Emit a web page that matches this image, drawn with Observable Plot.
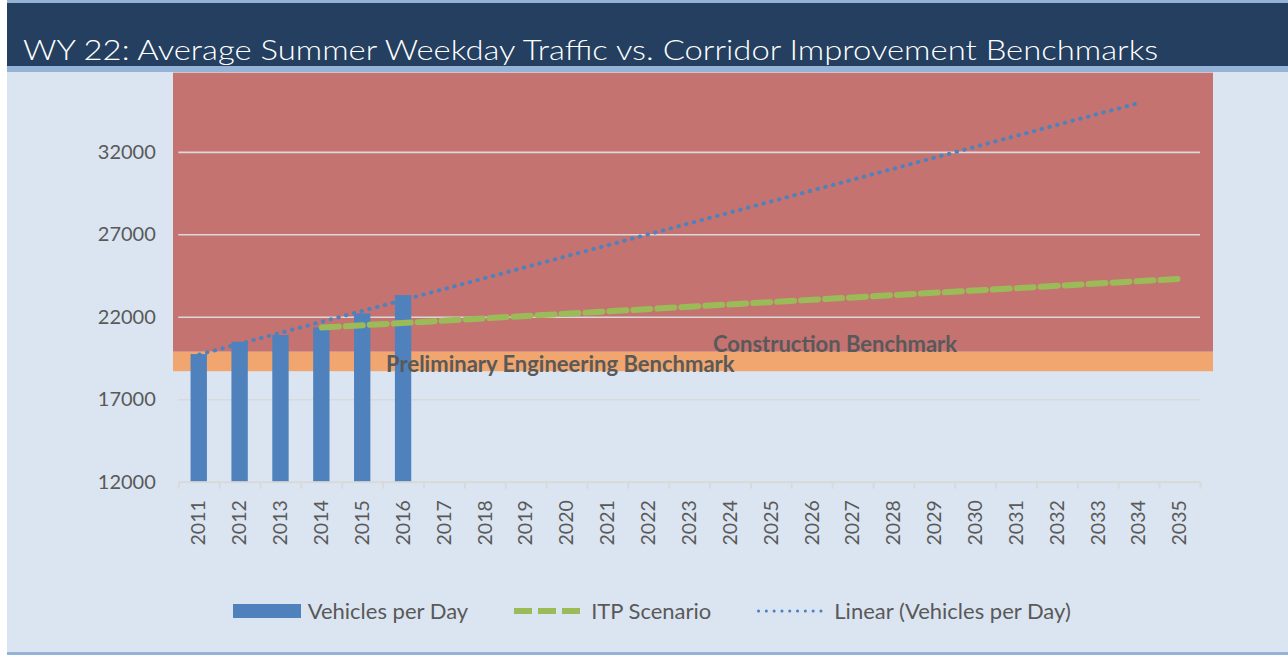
<!DOCTYPE html>
<html>
<head>
<meta charset="utf-8">
<script src="https://cdn.jsdelivr.net/npm/d3@7"></script>
<script src="https://cdn.jsdelivr.net/npm/@observablehq/plot@0.6"></script>
<style>
  html, body { margin: 0; padding: 0; background: #ffffff; }
  #wrap { position: absolute; left: 7px; top: 0; width: 1281px; height: 655px; background: #DBE5F1; overflow: hidden; font-family: Lato, "Open Sans", sans-serif; }
  #topstripe { position: absolute; left: 0; top: 0; width: 100%; height: 3px; background: #95B3D7; }
  #header { position: absolute; left: 0; top: 3px; width: 100%; height: 63px; background: #243F60; }
  #stripe2 { position: absolute; left: 0; top: 66px; width: 100%; height: 6px; background: #95B3D7; }
  #bottomstripe { position: absolute; left: 0; top: 652px; width: 100%; height: 3px; background: #95B3D7; }
  #title { position: absolute; left: 15.7px; top: 31.7px; font-size: 28px; line-height: normal; font-weight: 300; color: #ffffff; white-space: nowrap; transform-origin: 0 0; }
  #chart { position: absolute; left: 0; top: 72px; }
  #legend { position: absolute; left: 225.7px; top: 597px; height: 27px; display: flex; align-items: center; font-size: 22px; color: #595959; white-space: nowrap; }
  #legend .item { display: flex; align-items: center; margin-right: 46px; }
  #legend svg { display: block; margin-right: 7px; }
</style>
</head>
<body>
<div id="wrap">
  <div id="topstripe"></div>
  <div id="header"></div>
  <div id="stripe2"></div>
  <div id="title">WY 22: Average Summer Weekday Traffic vs. Corridor Improvement Benchmarks</div>
  <div id="chart"></div>
  <div id="legend"></div>
  <div id="bottomstripe"></div>
</div>
<script>
// ---- data ----
const years = [2011, 2012, 2013, 2014, 2015, 2016, 2017, 2018, 2019, 2020, 2021, 2022, 2023,
               2024, 2025, 2026, 2027, 2028, 2029, 2030, 2031, 2032, 2033, 2034, 2035];
const barYears = [2011, 2012, 2013, 2014, 2015, 2016];
const vehiclesPerDay = [19740, 20485, 20890, 21360, 22205, 23315];
const itpYears = [2014, 2035];
const itpValues = [21375, 24330];
const trendYears = [2011, 2034];
const trendValues = [19740, 35000];
const benchmarkNames = ["Construction Benchmark", "Preliminary Engineering Benchmark"];
const benchmarkLow = [19880, 18700];
const benchmarkHigh = [36800, 19880];
const benchmarkLabelYears = [2024, 2016];
const benchmarkColors = ["#C47371", "#F0A66E"];
const yTicks = [12000, 17000, 22000, 27000, 32000];
const yDomain = [12000, 36800];
const legendLabels = ["Vehicles per Day", "ITP Scenario", "Linear (Vehicles per Day)"];

// ---- tables ----
const barData = barYears.map((year, i) => ({year, value: vehiclesPerDay[i]}));
const itpData = itpYears.map((year, i) => ({year, value: itpValues[i]}));
const trendData = trendYears.map((year, i) => ({year, value: trendValues[i]}));
const benchData = benchmarkNames.map((name, i) => ({name, low: benchmarkLow[i], high: benchmarkHigh[i], color: benchmarkColors[i], labelYear: benchmarkLabelYears[i]}));

const W = 1281, H = 500;
const ML = 171.3, MR = 88, MT = 0.7, MB = 90.3;
const step = (W - ML - MR) / years.length;

const plot = Plot.plot({
  width: W, height: H,
  marginLeft: ML, marginRight: MR, marginTop: MT, marginBottom: MB,
  style: {background: "transparent", color: "#595959", fontFamily: "Lato, 'Open Sans', sans-serif", fontSize: "20px", overflow: "visible"},
  x: {type: "band", domain: years, paddingInner: 0.6, paddingOuter: 0.3, round: false, label: null},
  y: {domain: yDomain, label: null},
  marks: [
    Plot.rectY(benchData, {y1: "low", y2: "high", fill: "color", insetLeft: -5.3, insetRight: -13}),
    Plot.ruleY(yTicks.slice(1), {stroke: "#D9D9D9", strokeWidth: 1.6}),
    Plot.barY(barData, {x: "year", y: "value", fill: "#4F81BD", clip: true}),
    Plot.ruleY([yDomain[0]], {stroke: "#D9D9D9", strokeWidth: 2}),
    Plot.axisY({ticks: yTicks, tickSize: 0, tickPadding: 23, tickFormat: d => String(d), fontSize: 20, label: null}),
    Plot.axisX({tickSize: 0, tickPadding: 18, tickRotate: -90, tickFormat: d => String(d), fontSize: 19.5, label: null}),
    Plot.axisX({tickSize: 7, tickFormat: () => "", dx: -step / 2, stroke: "#D9D9D9", strokeWidth: 2, label: null}),
    Plot.axisX([years[years.length - 1]], {tickSize: 7, tickFormat: () => "", dx: step / 2, stroke: "#D9D9D9", strokeWidth: 2, label: null}),
    Plot.text(benchData, {x: "labelYear", y: "low", text: "name", textAnchor: "start", lineAnchor: "bottom", dx: -17.5, fontWeight: "bold", fontSize: 22, fill: "#595959"}),
    Plot.line(itpData, {x: "year", y: "value", stroke: "#9BBB59", strokeWidth: 6, strokeDasharray: "17 7"}),
    Plot.line(trendData, {x: "year", y: "value", stroke: "#4F81BD", strokeWidth: 4, strokeDasharray: "0.5 7.5", strokeLinecap: "round"})
  ]
});
document.getElementById("chart").appendChild(plot);

// ---- legend ----
const swatches = [
  `<svg width="68" height="20"><rect x="0" y="3" width="68" height="14" fill="#4F81BD"/></svg>`,
  `<svg width="70" height="20"><line x1="0" x2="70" y1="10" y2="10" stroke="#9BBB59" stroke-width="6" stroke-dasharray="18 6"/></svg>`,
  `<svg width="70" height="20"><line x1="1.5" x2="70" y1="10" y2="10" stroke="#4F81BD" stroke-width="3" stroke-dasharray="0.1 7.7" stroke-linecap="round"/></svg>`
];
document.getElementById("legend").innerHTML = legendLabels.map((l, i) =>
  `<div class="item">${swatches[i]}<span>${l}</span></div>`).join("");

// ---- fit title width to reference ----
function fitTitle() {
  const t = document.getElementById("title");
  t.style.transform = "none";
  const w = t.getBoundingClientRect().width;
  t.style.transform = `scaleX(${1135.3 / w})`;
}
fitTitle();
if (document.fonts && document.fonts.ready) document.fonts.ready.then(fitTitle);
</script>
</body>
</html>
